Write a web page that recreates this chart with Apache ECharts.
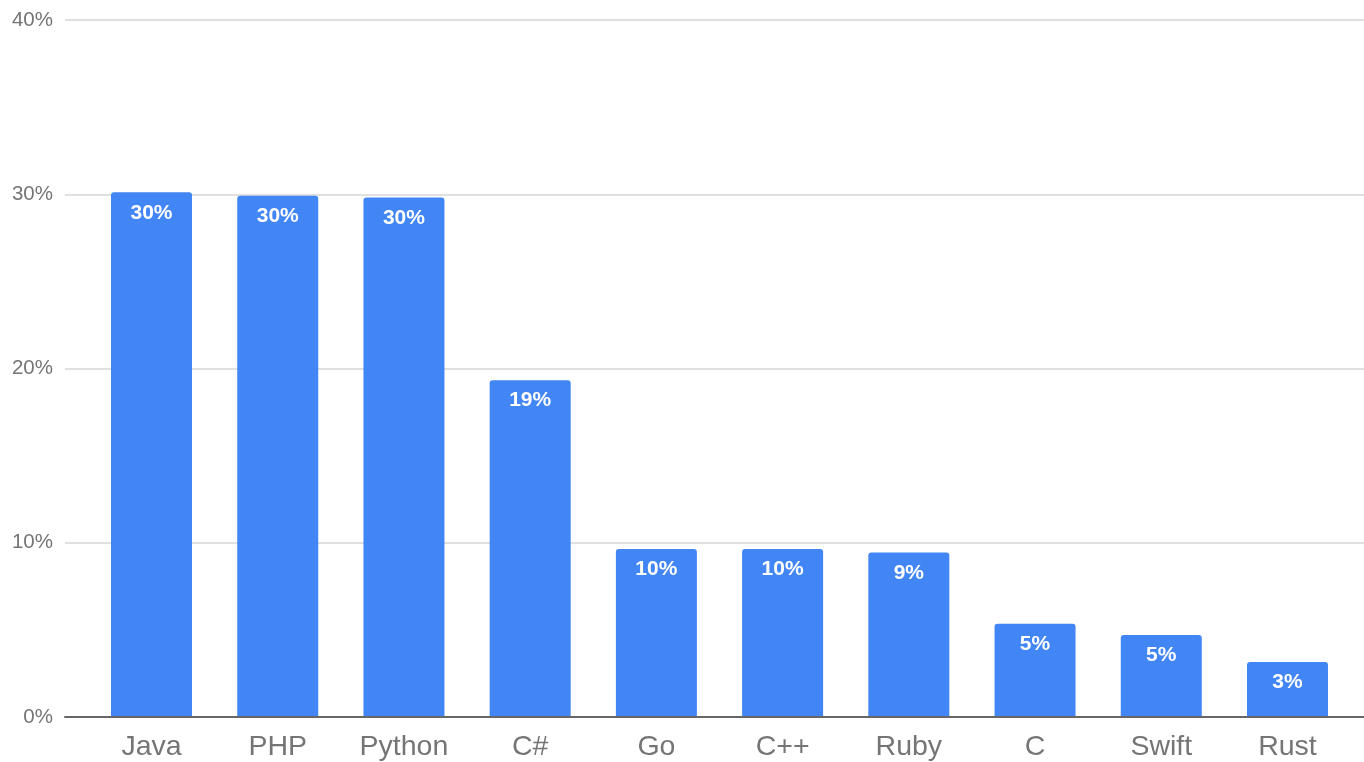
<!DOCTYPE html>
<html>
<head>
<meta charset="utf-8">
<script src="https://cdn.jsdelivr.net/npm/echarts@6/dist/echarts.min.js"></script>
<style>
html,body{margin:0;padding:0;background:#fff;}
#chart{width:1364px;height:762px;}
</style>
</head>
<body>
<div id="chart"></div>
<script>
const categories = ['Java', 'PHP', 'Python', 'C#', 'Go', 'C++', 'Ruby', 'C', 'Swift', 'Rust'];
const shares = [30.1, 29.9, 29.8, 19.3, 9.6, 9.6, 9.4, 5.3, 4.65, 3.1];
const yTicks = [0, 10, 20, 30, 40];

const FONT = '"Liberation Sans", Arial, sans-serif';
const chart = echarts.init(document.getElementById('chart'), null, {renderer: 'canvas'});
chart.setOption({
  animation: false,
  backgroundColor: '#fff',
  grid: [
    {left: 65, right: 0, top: 20, bottom: 45},
    {left: 88.4, right: 13.4, top: 20, bottom: 45}
  ],
  xAxis: [
    {
      gridIndex: 0, type: 'value', min: 0, max: 1,
      axisLine: {show: true, lineStyle: {color: '#666', width: 2}},
      axisTick: {show: false}, axisLabel: {show: false}, splitLine: {show: false}
    },
    {
      gridIndex: 1, type: 'category', data: categories,
      axisLine: {show: false}, axisTick: {show: false},
      axisLabel: {color: '#757575', fontSize: 28.5, fontFamily: FONT, margin: 17, interval: 0}
    }
  ],
  yAxis: [
    {
      gridIndex: 0, type: 'value', min: yTicks[0], max: yTicks[yTicks.length - 1], interval: 10,
      axisLine: {show: false}, axisTick: {show: false},
      axisLabel: {color: '#757575', fontSize: 20.5, fontFamily: FONT, margin: 12, formatter: '{value}%'},
      splitLine: {show: true, lineStyle: {color: '#e0e0e0', width: 2}}
    },
    {
      gridIndex: 1, type: 'value', min: 0, max: 40, show: false
    }
  ],
  series: [{
    type: 'bar',
    xAxisIndex: 1, yAxisIndex: 1,
    data: shares,
    barWidth: 81,
    itemStyle: {color: '#4285F4', borderRadius: [3, 3, 0, 0]},
    label: {
      show: true, position: 'insideTop', distance: 10,
      color: '#fff', fontSize: 21, fontWeight: 'bold', fontFamily: FONT,
      formatter: p => Math.round(p.value) + '%'
    }
  }]
});
</script>
</body>
</html>
